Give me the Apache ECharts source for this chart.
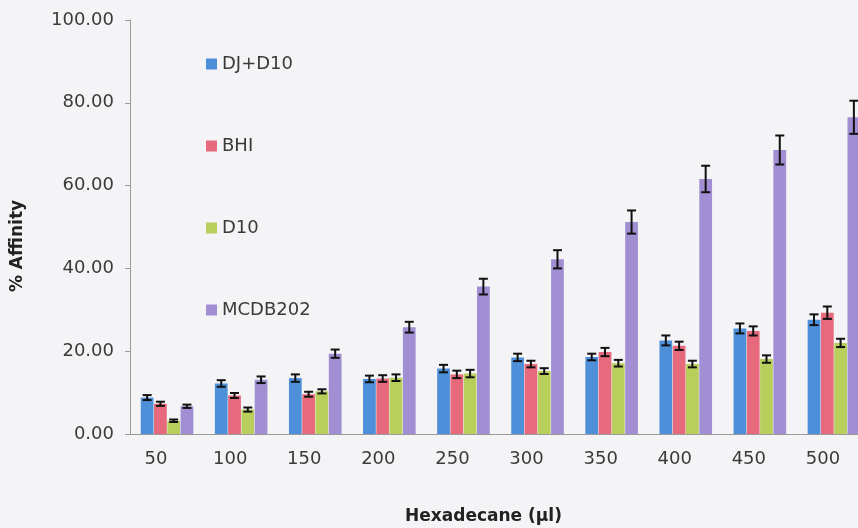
<!DOCTYPE html>
<html>
<head>
<meta charset="utf-8">
<script src="https://cdn.jsdelivr.net/npm/echarts@6/dist/echarts.min.js"></script>
<style>
  html, body { margin: 0; padding: 0; background: #f4f4f7; }
  #chart { width: 858px; height: 528px; }
</style>
</head>
<body>
<div id="chart"></div>
<script>
var categories = ['50', '100', '150', '200', '250', '300', '350', '400', '450', '500'];
var seriesNames = ['DJ+D10', 'BHI', 'D10', 'MCDB202'];

var djD10 = [8.8, 12.2, 13.5, 13.3, 15.8, 18.5, 18.6, 22.6, 25.5, 27.6];
var djD10Err = [0.6, 0.8, 0.9, 0.8, 0.9, 0.9, 0.8, 1.2, 1.2, 1.3];
var bhi = [7.3, 9.3, 9.6, 13.4, 14.4, 16.9, 19.8, 21.3, 24.9, 29.3];
var bhiErr = [0.5, 0.6, 0.6, 0.8, 0.9, 0.8, 1.0, 1.0, 1.1, 1.5];
var d10 = [3.2, 5.9, 10.3, 13.6, 14.6, 15.2, 17.1, 16.9, 18.1, 22.0];
var d10Err = [0.3, 0.5, 0.5, 0.8, 0.9, 0.7, 0.8, 0.8, 0.9, 1.0];
var mcdb202 = [6.7, 13.1, 19.4, 25.8, 35.6, 42.2, 51.2, 61.6, 68.6, 76.5];
var mcdb202Err = [0.4, 0.8, 1.0, 1.3, 1.9, 2.2, 2.8, 3.2, 3.5, 4.0];

var colors = ['#4d8fd8', '#e66a7c', '#b8cf5c', '#a28fd3'];
var values = [djD10, bhi, d10, mcdb202];
var errors = [djD10Err, bhiErr, d10Err, mcdb202Err];

var catGap = 0.29;   // barCategoryGap
var barGap = 0.04;   // barGap
var nBars = 4;

var myChart = echarts.init(document.getElementById('chart'));

function errorSeries(k) {
    var data = values[k].map(function (v, i) {
        return [i, v - errors[k][i], v + errors[k][i]];
    });
    return {
        type: 'custom',
        name: seriesNames[k] + ' err',
        z: 10,
        silent: true,
        renderItem: function (params, api) {
            var i = api.value(0);
            var lo = api.coord([i, api.value(1)]);
            var hi = api.coord([i, api.value(2)]);
            var band = api.size([1, 0])[0];
            var bw = band * (1 - catGap) / (nBars + (nBars - 1) * barGap);
            var total = bw * nBars + bw * barGap * (nBars - 1);
            var x = lo[0] - total / 2 + k * bw * (1 + barGap) + bw / 2;
            var cap = 4.5;
            var st = { stroke: '#111', lineWidth: 2 };
            return {
                type: 'group',
                children: [
                    { type: 'line', shape: { x1: x, y1: lo[1], x2: x, y2: hi[1] }, style: st },
                    { type: 'line', shape: { x1: x - cap, y1: lo[1], x2: x + cap, y2: lo[1] }, style: st },
                    { type: 'line', shape: { x1: x - cap, y1: hi[1], x2: x + cap, y2: hi[1] }, style: st }
                ]
            };
        },
        encode: { x: 0, y: [1, 2] },
        data: data
    };
}

var series = [];
for (var k = 0; k < nBars; k++) {
    series.push({
        type: 'bar',
        name: seriesNames[k],
        data: values[k],
        barCategoryGap: '29%',
        barGap: '4%',
        itemStyle: { color: colors[k] }
    });
}
for (var k2 = 0; k2 < nBars; k2++) {
    series.push(errorSeries(k2));
}

myChart.setOption({
    backgroundColor: '#f4f4f7',
    animation: false,
    color: colors,
    grid: {
        left: 130,
        top: 20,
        bottom: 94,
        width: 741,
        outerBoundsMode: 'none'
    },
    legend: {
        data: seriesNames,
        orient: 'vertical',
        left: 201,
        top: 50,
        itemWidth: 11,
        itemHeight: 11,
        itemGap: 64,
        icon: 'rect',
        textStyle: { fontFamily: 'DejaVu Sans', fontSize: 18, color: '#3a3a3a' }
    },
    xAxis: {
        type: 'category',
        data: categories,
        name: 'Hexadecane (\u00b5l)',
        nameLocation: 'middle',
        nameGap: 74,
        nameTextStyle: {
            fontFamily: 'DejaVu Sans', fontSize: 17, fontWeight: 'bold', color: '#222',
            padding: [0, 34, 0, 0]
        },
        axisLine: { lineStyle: { color: '#9a9a9a' } },
        axisTick: { length: 5, lineStyle: { color: '#9a9a9a' } },
        axisLabel: {
            fontFamily: 'DejaVu Sans', fontSize: 18, color: '#3a3a3a', margin: 16,
            padding: [0, 22, 0, 0]
        }
    },
    yAxis: {
        type: 'value',
        min: 0,
        max: 100,
        interval: 20,
        name: '% Affinity',
        nameLocation: 'middle',
        nameGap: 104,
        nameTextStyle: {
            fontFamily: 'DejaVu Sans', fontSize: 17, fontWeight: 'bold', color: '#222',
            padding: [0, 38, 0, 0]
        },
        splitLine: { show: false },
        axisLine: { show: true, lineStyle: { color: '#9a9a9a' } },
        axisTick: { show: true, length: 5, lineStyle: { color: '#9a9a9a' } },
        axisLabel: {
            fontFamily: 'DejaVu Sans', fontSize: 18, color: '#3a3a3a', margin: 16,
            formatter: function (v) { return v.toFixed(2); }
        }
    },
    series: series
});
</script>
</body>
</html>
